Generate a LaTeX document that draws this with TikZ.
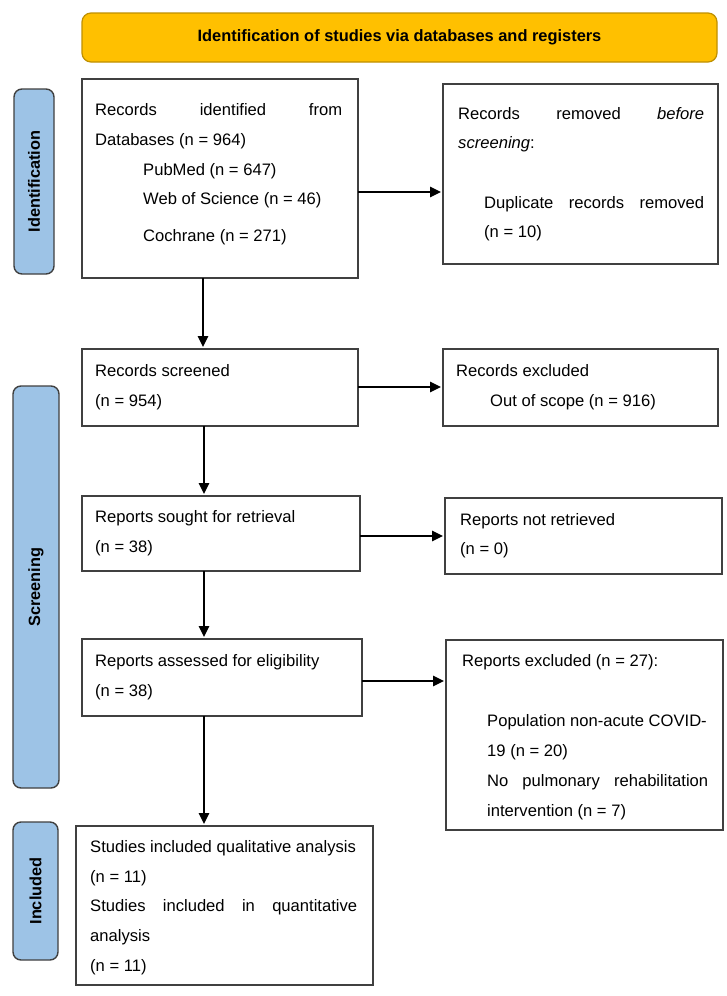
\documentclass[tikz,border=0pt]{standalone}
\usepackage{fontspec}
\setmainfont{Liberation Sans}
\usetikzlibrary{arrows.meta}
\definecolor{hdrfill}{HTML}{FFC000}
\definecolor{hdrline}{HTML}{BF9000}
\definecolor{bluefill}{HTML}{9DC3E6}
\definecolor{boxline}{HTML}{404040}
\begin{document}
\begin{tikzpicture}[x=1pt,y=-1pt,
  box/.style={draw=boxline, line width=1.4pt, fill=white, inner sep=0pt, outer sep=0pt},
  hdr/.style={draw=hdrline, line width=1.2pt, fill=hdrfill, rounded corners=9pt, inner sep=0pt, outer sep=0pt,
    font=\bfseries\fontsize{16.4}{20}\selectfont},
  phase/.style={draw=boxline, line width=1.4pt, fill=bluefill, rounded corners=8pt, inner sep=0pt, outer sep=0pt},
  phasetxt/.style={rotate=90, font=\bfseries\fontsize{16.3}{20}\selectfont, inner sep=0pt},
  txt/.style={anchor=west, inner sep=0pt, font=\fontsize{16.6}{20}\selectfont, text height=12pt, text depth=3.5pt},
  arr/.style={draw=black, line width=1.4pt, shorten >=2pt, -{Triangle[length=11pt,width=10.5pt]}}
]
\useasboundingbox (0,0) rectangle (726,996);
\fill[white] (0,0) rectangle (726,996);

% header
\node[hdr, minimum width=635pt, minimum height=49pt] (hdr) at (399.5,37.5) {Identification of studies via databases and registers};

% phase labels
\node[phase, minimum width=40pt, minimum height=185pt] (idlab) at (34,181.5) {};
\node[phasetxt] (idtxt) at (idlab) {Identification};
\node[phase, minimum width=46pt, minimum height=402pt] (scr) at (36,587) {};
\node[phasetxt] (scrtxt) at (scr) {Screening};
\node[phase, minimum width=45pt, minimum height=138pt] (inc) at (35.5,891) {};
\node[phasetxt] (inctxt) at (inc) {Included};

% boxes
\node[box, minimum width=276pt, minimum height=199pt] (b1) at (220,178.5) {};
\node[box, minimum width=275pt, minimum height=180pt] (b2) at (580.5,174) {};
\node[box, minimum width=276pt, minimum height=77pt] (b3) at (220,387.5) {};
\node[box, minimum width=275pt, minimum height=77pt] (b4) at (580.5,387.5) {};
\node[box, minimum width=278pt, minimum height=75pt] (b5) at (221,533.5) {};
\node[box, minimum width=277pt, minimum height=76pt] (b6) at (583.5,536) {};
\node[box, minimum width=280pt, minimum height=77pt] (b7) at (222,677.5) {};
\node[box, minimum width=277pt, minimum height=190pt] (b8) at (584.5,735) {};
\node[box, minimum width=297pt, minimum height=159pt] (b9) at (224.5,905.5) {};

% texts box 1
\node[txt] (t1a) at (95,111) {\makebox[247pt][s]{Records identified from}};
\node[txt] (t1b) at (95,141) {Databases (n = 964)};
\node[txt] (t1c) at (143,171) {PubMed (n = 647)};
\node[txt] (t1d) at (143,200) {Web of Science (n = 46)};
\node[txt] (t1e) at (143,237) {Cochrane (n = 271)};
% box 2
\node[txt] (t2a) at (458,115) {\makebox[246pt][s]{Records removed \textit{before}}};
\node[txt] (t2b) at (458,144) {\textit{screening}:};
\node[txt] (t2c) at (484,204) {\makebox[220pt][s]{Duplicate records removed}};
\node[txt] (t2d) at (484,233) {(n = 10)};
% box 3
\node[txt] (t3a) at (95,372) {Records screened};
\node[txt] (t3b) at (95,402) {(n = 954)};
% box 4
\node[txt] (t4a) at (456,372) {Records excluded};
\node[txt] (t4b) at (490,402) {Out of scope (n = 916)};
% box 5
\node[txt] (t5a) at (95,518) {Reports sought for retrieval};
\node[txt] (t5b) at (95,548) {(n = 38)};
% box 6
\node[txt] (t6a) at (460,521) {Reports not retrieved};
\node[txt] (t6b) at (460,550) {(n = 0)};
% box 7
\node[txt] (t7a) at (95,662) {Reports assessed for eligibility};
\node[txt] (t7b) at (95,692) {(n = 38)};
% box 8
\node[txt] (t8a) at (462,662) {Reports excluded (n = 27):};
\node[txt] (t8b) at (487,722) {Population non-acute COVID-};
\node[txt] (t8c) at (487,752) {19 (n = 20)};
\node[txt] (t8d) at (487,782) {\makebox[221pt][s]{No pulmonary rehabilitation}};
\node[txt] (t8e) at (487,812) {intervention (n = 7)};
% box 9
\node[txt] (t9a) at (90,848) {Studies included qualitative analysis};
\node[txt] (t9b) at (90,878) {(n = 11)};
\node[txt] (t9c) at (90,907) {\makebox[267pt][s]{Studies included in quantitative}};
\node[txt] (t9d) at (90,937) {analysis};
\node[txt] (t9e) at (90,967) {(n = 11)};

% connectors
\draw[arr] (b1.east |- 0,192) -- (b2.west |- 0,192);
\draw[arr] (b3.east |- 0,387) -- (b4.west |- 0,387);
\draw[arr] (b5.east |- 0,536) -- (b6.west |- 0,536);
\draw[arr] (b7.east |- 0,681) -- (b8.west |- 0,681);
\draw[arr] (b1.south -| 203,0) -- (b3.north -| 203,0);
\draw[arr] (b3.south -| 204,0) -- (b5.north -| 204,0);
\draw[arr] (b5.south -| 204,0) -- (b7.north -| 204,0);
\draw[arr] (b7.south -| 204,0) -- (b9.north -| 204,0);
\end{tikzpicture}
\end{document}
